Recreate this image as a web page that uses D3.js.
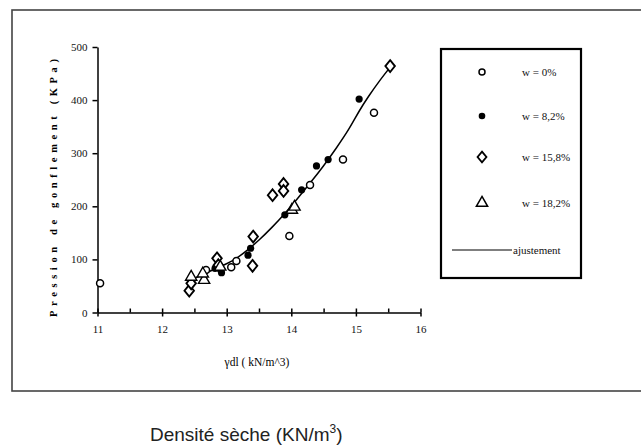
<!DOCTYPE html>
<html>
<head>
  <meta charset="utf-8">
  <script src="https://d3js.org/d3.v7.min.js"></script>
  <style>
  body { margin:0; background:#fff; }
  .axis text { font-family: "Liberation Serif", serif; font-size: 11px; fill:#111; }
  .axis path, .axis line { stroke:#000; stroke-width:1.5px; }
  .leg text { font-family: "Liberation Serif", serif; font-size: 11px; fill:#111; }
</style>
</head>
<body>
<script>

  // data
  var xTicks = [11, 12, 13, 14, 15, 16];
  var xMinor = [11.5, 12.5, 13.5, 14.5, 15.5];
  var yTicks = [0, 100, 200, 300, 400, 500];

  var w0  = [[11.04, 55], [12.68, 80], [13.07, 85], [13.15, 97], [13.97, 144], [14.29, 240], [14.80, 288], [15.28, 376]];
  var w82 = [[12.82, 83], [12.92, 75], [13.33, 108], [13.37, 121], [13.90, 184], [14.16, 231], [14.39, 276], [14.57, 288], [15.05, 402]];
  var w158 = [[12.42, 41], [12.45, 55], [12.85, 102], [12.87, 89], [13.40, 88], [13.41, 143], [13.71, 221], [13.88, 242], [13.88, 229], [15.53, 464]];
  var w182 = [[12.45, 67], [12.65, 61], [12.63, 73], [12.90, 86], [14.01, 193], [14.05, 199]];
  var fit = [[12.42, 60], [12.6, 70], [12.85, 84], [13.1, 97], [13.3, 115], [13.5, 136], [13.7, 160], [13.9, 186],
             [14.1, 215], [14.3, 245], [14.5, 276], [14.7, 310], [14.9, 346], [15.05, 380], [15.2, 408], [15.35, 434], [15.53, 462]];

  var legendLabels = ["w = 0%", "w = 8,2%", "w = 15,8%", "w = 18,2%", "ajustement"];

  var svg = d3.select("body").append("svg")
    .attr("width", 641)
    .attr("height", 448);

  // outer frame
  svg.append("rect")
    .attr("x", 12).attr("y", 10).attr("width", 640).attr("height", 381)
    .attr("fill", "none").attr("stroke", "#444").attr("stroke-width", 1.6);

  var x = d3.scaleLinear().domain([11, 16]).range([97.5, 420.5]);
  var y = d3.scaleLinear().domain([0, 500]).range([312.5, 47]);

  var xAxis = d3.axisBottom(x).tickValues(xTicks).tickFormat(d3.format("d"))
    .tickSizeInner(4).tickSizeOuter(0).tickPadding(9);
  var yAxis = d3.axisLeft(y).tickValues(yTicks).tickFormat(d3.format("d"))
    .tickSizeInner(5).tickSizeOuter(0).tickPadding(5);

  svg.append("g")
    .attr("class", "x axis")
    .attr("transform", "translate(0," + y(0) + ")")
    .call(xAxis);

  svg.append("g")
    .attr("class", "x axis minor")
    .attr("transform", "translate(0," + y(0) + ")")
    .call(d3.axisTop(x).tickValues(xTicks.concat(xMinor)).tickSize(4).tickFormat(""))
    .select(".domain").remove();

  svg.append("g")
    .attr("class", "y axis")
    .attr("transform", "translate(" + x(11) + ",0)")
    .call(yAxis);

  svg.append("text")
    .attr("x", 257).attr("y", 366)
    .attr("text-anchor", "middle")
    .style("font-family", "Liberation Serif, serif").style("font-size", "11.5px")
    .text("γdl ( kN/m^3)");

  svg.append("text")
    .attr("transform", "translate(57,188) rotate(-90)")
    .attr("text-anchor", "middle")
    .attr("textLength", 258).attr("lengthAdjust", "spacing")
    .style("font-family", "Liberation Serif, serif").style("font-size", "10.5px").style("font-weight", "bold")
    .text("Pression de gonflement (KPa)");

  // fitted curve
  var line = d3.line().x(d => x(d[0])).y(d => y(d[1])).curve(d3.curveBasis);
  svg.append("path").datum(fit)
    .attr("d", line).attr("fill", "none").attr("stroke", "#000").attr("stroke-width", 1.5);

  var diamond = d3.symbol().type(d3.symbolDiamond).size(40);
  var tri = d3.symbol().type(d3.symbolTriangle).size(55);

  svg.selectAll(".w0").data(w0).enter().append("circle")
    .attr("class", "w0")
    .attr("cx", d => x(d[0])).attr("cy", d => y(d[1])).attr("r", 3.5)
    .attr("fill", "#fff").attr("stroke", "#000").attr("stroke-width", 1.5);

  svg.selectAll(".w82").data(w82).enter().append("circle")
    .attr("class", "w82")
    .attr("cx", d => x(d[0])).attr("cy", d => y(d[1])).attr("r", 3.6)
    .attr("fill", "#000");

  svg.selectAll(".w158").data(w158).enter().append("path")
    .attr("class", "w158")
    .attr("transform", d => "translate(" + x(d[0]) + "," + y(d[1]) + ") scale(1.4,1)")
    .attr("d", diamond)
    .attr("fill", "#fff").attr("stroke", "#000").attr("stroke-width", 1.5);

  svg.selectAll(".w182").data(w182).enter().append("path")
    .attr("class", "w182")
    .attr("transform", d => "translate(" + x(d[0]) + "," + y(d[1]) + ")")
    .attr("d", tri)
    .attr("fill", "#fff").attr("stroke", "#000").attr("stroke-width", 1.4);

  // legend
  var leg = svg.append("g").attr("class", "leg");
  leg.append("rect")
    .attr("x", 441).attr("y", 49).attr("width", 140).attr("height", 229)
    .attr("fill", "#fff").attr("stroke", "#000").attr("stroke-width", 2.2);

  var ly = [72, 116, 157, 203, 250];
  leg.append("circle").attr("cx", 482).attr("cy", ly[0]).attr("r", 3)
    .attr("fill", "#fff").attr("stroke", "#000").attr("stroke-width", 1.5);
  leg.append("circle").attr("cx", 482).attr("cy", ly[1]).attr("r", 3.3).attr("fill", "#000");
  leg.append("path").attr("transform", "translate(482," + ly[2] + ") scale(1.3,0.9)").attr("d", diamond)
    .attr("fill", "#fff").attr("stroke", "#000").attr("stroke-width", 1.6);
  leg.append("path").attr("transform", "translate(482," + ly[3] + ")").attr("d", tri)
    .attr("fill", "#fff").attr("stroke", "#000").attr("stroke-width", 1.5);
  leg.append("line").attr("x1", 452).attr("x2", 512).attr("y1", ly[4]).attr("y2", ly[4])
    .attr("stroke", "#000").attr("stroke-width", 1.2);

  leg.selectAll(".lt").data(legendLabels).enter().append("text")
    .attr("class", "lt")
    .attr("x", (d, i) => i < 4 ? 522 : 513)
    .attr("y", (d, i) => ly[i] + 4)
    .text(d => d);

  // caption below the frame
  var cap = svg.append("text")
    .attr("x", 150).attr("y", 441)
    .style("font-family", "Liberation Sans, Arial, sans-serif").style("font-size", "19px").style("fill", "#222");
  cap.append("tspan").text("Densité sèche (KN/m");
  cap.append("tspan").attr("dy", -8).style("font-size", "12px").text("3");
  cap.append("tspan").attr("dy", 8).text(")");

</script>
</body>
</html>
